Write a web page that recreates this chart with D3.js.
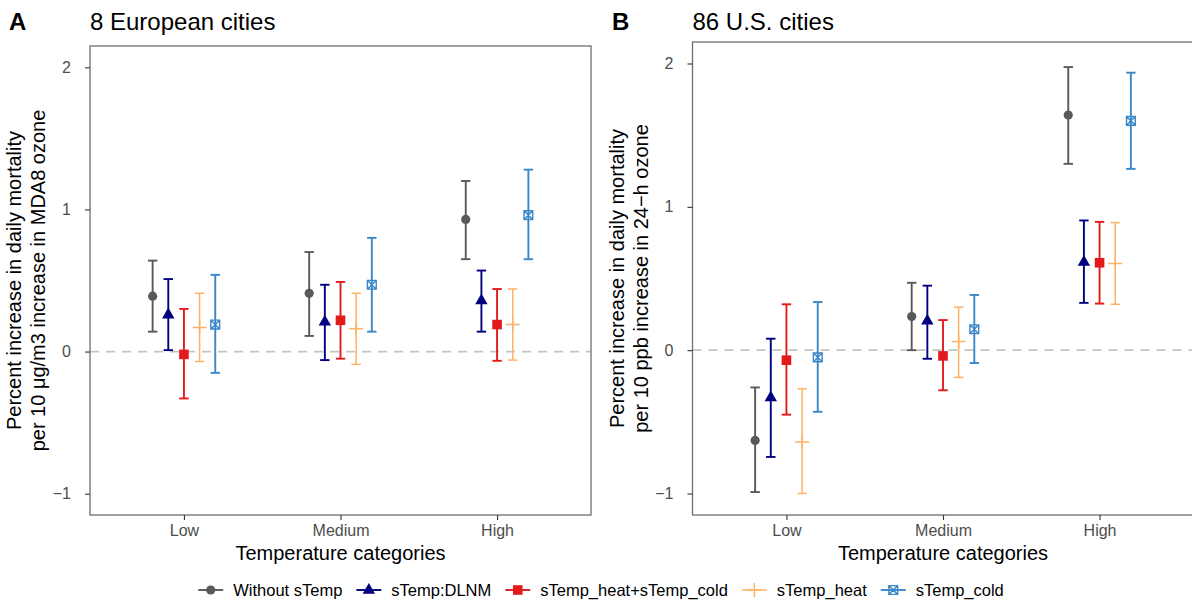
<!DOCTYPE html>
<html lang="en">

<head>
    <meta charset="UTF-8">
    <title>Ozone mortality by temperature category</title>
    <style>
        body {
            margin: 0;
            background: #fff;
            font-family: "Liberation Sans", Arial, sans-serif;
        }

        svg {
            display: block;
        }

        .tick text {
            fill: #4d4d4d;
            font-size: 16px;
        }

        .tick line {
            stroke: #333;
            stroke-width: 1.1;
        }
    </style>
    <script src="https://d3js.org/d3.v7.min.js"></script>
</head>

<body>
    <svg width="1192" height="603"></svg>

    <script>
        const categories = ["Low", "Medium", "High"];
        const seriesNames = ["Without sTemp", "sTemp:DLNM", "sTemp_heat+sTemp_cold", "sTemp_heat", "sTemp_cold"];
        const seriesColors = ["#595959", "#000080", "#E31A1C", "#FDB366", "#3A87C8"];
        const yTicks = [-1, 0, 1, 2];

        // 8 European cities, rows = series, columns = Low / Medium / High
        const euroEst = [
            [0.39, 0.41, 0.93],
            [0.26, 0.21, 0.36],
            [-0.02, 0.22, 0.19],
            [0.17, 0.16, 0.19],
            [0.19, 0.47, 0.96]
        ];
        const euroLow = [
            [0.14, 0.11, 0.65],
            [0.01, -0.06, 0.14],
            [-0.33, -0.05, -0.065],
            [-0.07, -0.09, -0.06],
            [-0.15, 0.14, 0.65]
        ];
        const euroHigh = [
            [0.64, 0.70, 1.20],
            [0.51, 0.47, 0.57],
            [0.30, 0.49, 0.44],
            [0.41, 0.41, 0.44],
            [0.54, 0.80, 1.28]
        ];

        // 86 U.S. cities
        const usEst = [
            [-0.63, 0.235, 1.64],
            [-0.33, 0.205, 0.615],
            [-0.07, -0.04, 0.61],
            [-0.64, 0.06, 0.605],
            [-0.05, 0.146, 1.60]
        ];
        const usLow = [
            [-0.99, 0.0, 1.30],
            [-0.745, -0.06, 0.33],
            [-0.45, -0.28, 0.325],
            [-1.0, -0.19, 0.32],
            [-0.43, -0.09, 1.265]
        ];
        const usHigh = [
            [-0.26, 0.47, 1.975],
            [0.08, 0.45, 0.905],
            [0.32, 0.21, 0.895],
            [-0.27, 0.30, 0.89],
            [0.336, 0.385, 1.936]
        ];

        const svg = d3.select("svg");

        // marker shapes, one per series
        function drawMarker(g, i, color) {
            if (i === 0) {
                g.append("circle").attr("r", 4.6).attr("fill", color);
            } else if (i === 1) {
                g.append("path").attr("d", "M0,-7L6.2,3.8L-6.2,3.8Z").attr("fill", color);
            } else if (i === 2) {
                g.append("rect").attr("x", -4.8).attr("y", -4.8).attr("width", 9.6).attr("height", 9.6)
                    .attr("fill", color);
            } else if (i === 3) {
                g.append("path").attr("d", "M-7,0H7M0,-7V7").attr("stroke", color)
                    .attr("stroke-width", 1.5).attr("fill", "none");
            } else {
                g.append("path")
                    .attr("d", "M-4.4,-4.4H4.4V4.4H-4.4Z M-4.4,-4.4L4.4,4.4 M4.4,-4.4L-4.4,4.4")
                    .attr("stroke", color).attr("stroke-width", 1.4).attr("fill", "none");
            }
        }

        function drawPanel(opts) {
            const { left, right, top, bottom, est, lo, hi, letter, title, yLines } = opts;

            const x = d3.scalePoint().domain(categories).range([left, right]).padding(0.6);
            const y = d3.scaleLinear().domain([-1.15, 2.15]).range([bottom, top]);
            const step = x.step();
            const dodge = i => (i - 2) * step * 0.1;
            const capHalf = step * 0.03;

            const g = svg.append("g");

            // zero reference
            g.append("line")
                .attr("x1", left).attr("x2", right)
                .attr("y1", y(0)).attr("y2", y(0))
                .attr("stroke", "#c4c4c4").attr("stroke-width", 1.8)
                .attr("stroke-dasharray", "9,7");

            seriesNames.forEach((name, i) => {
                const color = seriesColors[i];
                categories.forEach((cat, j) => {
                    const cx = x(cat) + dodge(i);
                    const bar = g.append("g").attr("stroke", color).attr("stroke-width", i === 3 ? 1.5 : 1.9);
                    bar.append("line").attr("x1", cx).attr("x2", cx).attr("y1", y(lo[i][j])).attr("y2", y(hi[i][j]));
                    bar.append("line").attr("x1", cx - capHalf).attr("x2", cx + capHalf)
                        .attr("y1", y(lo[i][j])).attr("y2", y(lo[i][j]));
                    bar.append("line").attr("x1", cx - capHalf).attr("x2", cx + capHalf)
                        .attr("y1", y(hi[i][j])).attr("y2", y(hi[i][j]));
                    const m = g.append("g").attr("transform", `translate(${cx},${y(est[i][j])})`);
                    drawMarker(m, i, color);
                });
            });

            // panel border
            g.append("rect")
                .attr("x", left).attr("y", top)
                .attr("width", right - left).attr("height", bottom - top)
                .attr("fill", "none").attr("stroke", "#6e6e6e").attr("stroke-width", 1.3);

            // axes
            const yAxis = g.append("g")
                .attr("transform", `translate(${left},0)`)
                .call(d3.axisLeft(y).tickValues(yTicks).tickFormat(d3.format("d")).tickSize(5).tickPadding(14));
            yAxis.select(".domain").remove();

            const xAxis = g.append("g")
                .attr("transform", `translate(0,${bottom})`)
                .call(d3.axisBottom(x).tickSize(5).tickPadding(5));
            xAxis.select(".domain").remove();

            // x title
            g.append("text")
                .attr("x", (left + right) / 2).attr("y", 560)
                .attr("text-anchor", "middle")
                .attr("font-size", 20).attr("fill", "#000")
                .text("Temperature categories");

            // y title, two lines
            const cy = (top + bottom) / 2;
            yLines.forEach((line, k) => {
                g.append("text")
                    .attr("transform", `translate(${left - 69 + k * 24},${cy}) rotate(-90)`)
                    .attr("text-anchor", "middle")
                    .attr("font-size", 20).attr("fill", "#000")
                    .text(line);
            });

            // letter and title
            g.append("text")
                .attr("x", opts.letterX).attr("y", 30)
                .attr("font-size", 24).attr("font-weight", "bold")
                .text(letter);
            g.append("text")
                .attr("x", left).attr("y", 30)
                .attr("font-size", 24)
                .text(title);
        }

        drawPanel({
            left: 90, right: 591, top: 46, bottom: 515,
            est: euroEst, lo: euroLow, hi: euroHigh,
            letter: "A", letterX: 9, title: "8 European cities",
            yLines: ["Percent increase in daily mortality", "per 10 μg/m3 increase in MDA8 ozone"]
        });

        drawPanel({
            left: 692.5, right: 1193.5, top: 42, bottom: 515,
            est: usEst, lo: usLow, hi: usHigh,
            letter: "B", letterX: 612, title: "86 U.S. cities",
            yLines: ["Percent increase in daily mortality", "per 10 ppb increase in 24\u2212h ozone"]
        });

        // legend
        const legend = svg.append("g");
        let lx = 0;
        seriesNames.forEach((name, i) => {
            const item = legend.append("g").attr("transform", `translate(${lx},0)`);
            item.append("line").attr("x1", 0).attr("x2", 25).attr("y1", 0).attr("y2", 0)
                .attr("stroke", seriesColors[i]).attr("stroke-width", i === 3 ? 1.5 : 1.9);
            const m = item.append("g").attr("transform", "translate(12.5,0)");
            drawMarker(m, i, seriesColors[i]);
            const t = item.append("text").attr("x", 35).attr("y", 6)
                .attr("font-size", 16.5).attr("fill", "#000").text(name);
            lx += 35 + t.node().getComputedTextLength() + 14;
        });
        const legendWidth = lx - 14;
        legend.attr("transform", `translate(${(1192 - legendWidth) / 2 + 5},590)`);
    </script>
</body>

</html>
